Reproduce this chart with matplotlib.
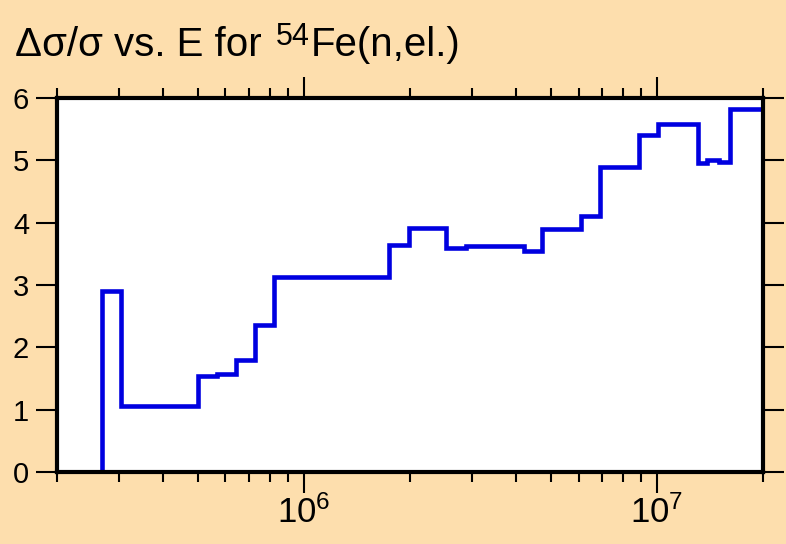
import matplotlib
matplotlib.use("Agg")
from matplotlib import pyplot as plt
from matplotlib.ticker import LogLocator, NullFormatter, FixedLocator
import numpy as np

# group boundaries (eV) and relative uncertainty (%) per group
edges = [2.68e5, 3.03e5, 5.0e5, 5.66e5, 6.42e5, 7.27e5, 8.25e5, 1.745e6, 1.98e6,
         2.53e6, 2.87e6, 4.19e6, 4.74e6, 6.11e6, 6.91e6, 8.87e6, 1.006e7,
         1.306e7, 1.385e7, 1.494e7, 1.612e7, 2.0e7]
values = [2.90, 1.06, 1.54, 1.57, 1.79, 2.36, 3.13, 3.64, 3.92, 3.59, 3.62,
          3.54, 3.90, 4.10, 4.90, 5.40, 5.58, 4.96, 5.00, 4.97, 5.82]
yticks = [0, 1, 2, 3, 4, 5, 6]
xmajor = [1e6, 1e7]
xlabels = ['$\\mathregular{10^{6}}$', '$\\mathregular{10^{7}}$']

plt.rcParams['font.family'] = ['Liberation Sans', 'DejaVu Sans']
plt.rcParams['mathtext.fontset'] = 'custom'
plt.rcParams['mathtext.rm'] = 'Liberation Sans'

bg = '#fddead'
W, H = 786, 544
fig = plt.figure(figsize=(W / 100, H / 100), dpi=100, facecolor=bg)
ax = fig.add_axes([0.0725, 0.1324, 0.9711 - 0.0725, 0.8199 - 0.1324])
ax.set_facecolor('white')

ax.stairs(values, edges, baseline=0, color='#0000e0', lw=3.3)

ax.set_xscale('log')
ax.set_xlim(2e5, 2e7)
ax.set_ylim(0, 6)

ax.xaxis.set_major_locator(FixedLocator(xmajor))
ax.set_xticklabels(xlabels)
ax.xaxis.set_minor_locator(LogLocator(base=10, subs=np.arange(2, 10), numticks=20))
ax.xaxis.set_minor_formatter(NullFormatter())
ax.set_yticks(yticks)

ax.tick_params(axis='x', which='major', direction='out', length=15, width=1.5,
               top=True, labelsize=25, pad=2)
ax.tick_params(axis='x', which='minor', direction='out', length=7.5, width=1.5, top=True)
ax.tick_params(axis='y', which='major', direction='out', length=15, width=1.5,
               right=True, labelsize=21, pad=5)
ax.tick_params(axis='y', which='minor', left=False, right=False)

for s in ax.spines.values():
    s.set_linewidth(3)
    s.set_zorder(5)

# title in three pieces so the superscript can be sized like the original
base = 1 - 55.7 / H
t1 = fig.text(15 / W, base, 'Δσ/σ vs. E for', fontsize=29, ha='left', va='baseline')
fig.canvas.draw()
r = fig.canvas.get_renderer()
x1 = t1.get_window_extent(r).x1 + 14
t2 = fig.text(x1 / W, base + 10.5 / H, '54', fontsize=22, ha='left', va='baseline')
fig.canvas.draw()
x2 = t2.get_window_extent(r).x1 + 1
fig.text(x2 / W, base, 'Fe(n,el.)', fontsize=29, ha='left', va='baseline')

fig.savefig('out.png', dpi=100, facecolor=bg)
